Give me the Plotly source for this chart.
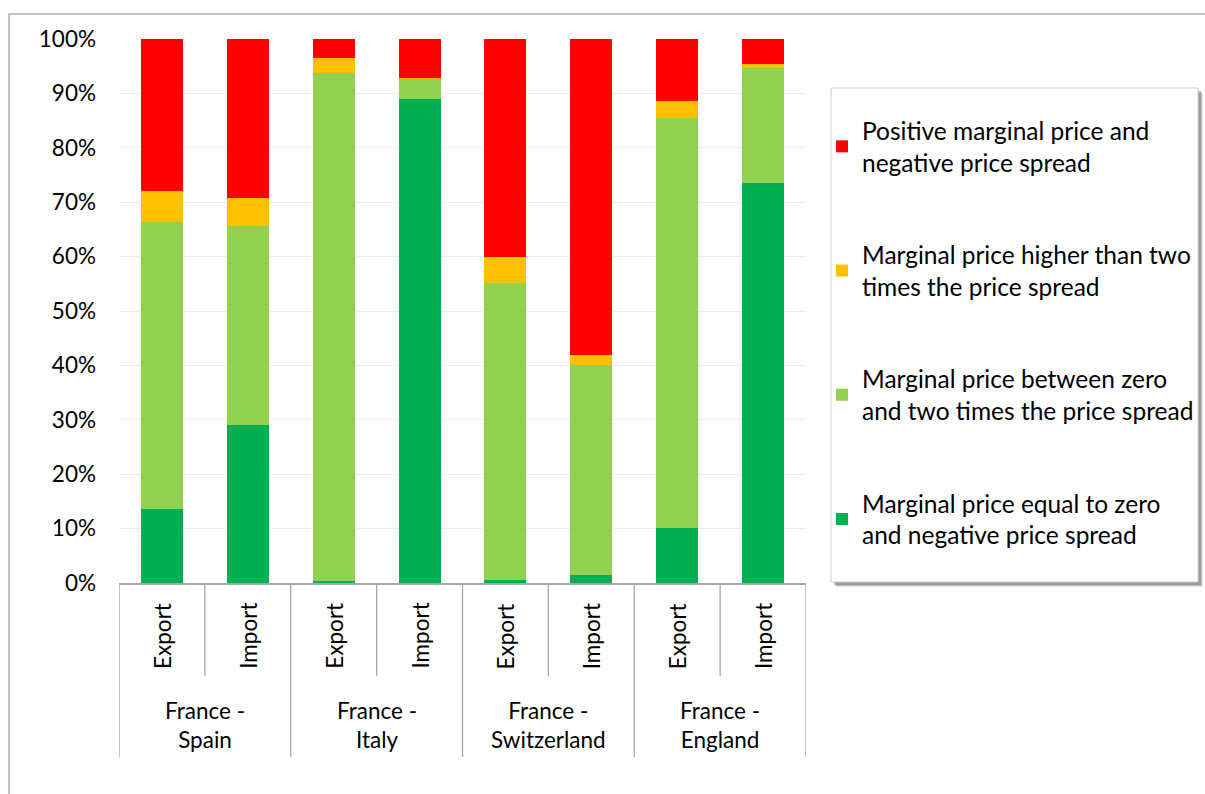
import plotly.graph_objects as go

# ---- data ----
groups = ["France -<br>Spain", "France -<br>Italy", "France -<br>Switzerland", "France -<br>England"]
flows = ["Export", "Import"]
zero_neg = [13.6, 29.0, 0.3, 89.0, 0.6, 1.4, 10.2, 73.6]
between = [52.7, 36.7, 93.5, 3.7, 54.5, 38.7, 75.2, 21.0]
higher = [5.7, 5.1, 2.7, 0.2, 4.8, 1.8, 3.2, 0.8]
positive = [28.0, 29.2, 3.5, 7.1, 40.1, 58.1, 11.4, 4.6]
series_names = [
    "Marginal price equal to zero<br>and negative price spread",
    "Marginal price between zero<br>and two times the price spread",
    "Marginal price higher than two<br>times the price spread",
    "Positive marginal price and<br>negative price spread",
]
series_values = [zero_neg, between, higher, positive]
series_colors = ["#00B050", "#92D050", "#FFC000", "#FF0000"]
y_ticks = [0, 10, 20, 30, 40, 50, 60, 70, 80, 90, 100]

# ---- layout geometry (pixels) ----
W, H = 1205, 794
PL, PR, PT, PB = 119, 806, 39, 583
FONT = "Lato, 'Open Sans', sans-serif"
AX_FS = 22.5
LEG_FS = 24.5

def px_x(x):
    return (x - PL) / (PR - PL)

def px_y(y):
    return (PB - y) / (PB - PT)

n = len(groups) * len(flows)
xs = list(range(n))

fig = go.Figure()
for k, (name, vals, col) in enumerate(zip(series_names, series_values, series_colors)):
    fig.add_trace(go.Bar(
        x=xs, y=vals, name=name, marker=dict(color=col, line=dict(width=0)),
        legendgroup=name, legendrank=len(series_names) - k,
    ))

shapes = []
annotations = []
axis_col = "#A6A6A6"
# category dividers
for i in range(n + 1):
    is_group = (i % len(flows) == 0)
    y_end = 757 if is_group else 676
    shapes.append(dict(type="line", xref="x", yref="paper", x0=i - 0.5, x1=i - 0.5,
                       y0=0, y1=px_y(y_end), line=dict(color=axis_col, width=1.3)))
# sub labels
for i in range(n):
    annotations.append(dict(xref="x", yref="paper", x=i, y=px_y(636), text=flows[i % len(flows)],
                            textangle=-90, showarrow=False,
                            font=dict(size=AX_FS, color="black", family=FONT),
                            xanchor="center", yanchor="middle"))
for g, gl in enumerate(groups):
    cx = g * len(flows) + (len(flows) - 1) / 2
    annotations.append(dict(xref="x", yref="paper", x=cx, y=px_y(725), text=gl,
                            showarrow=False, font=dict(size=AX_FS, color="black", family=FONT),
                            xanchor="center", yanchor="middle"))

# chart area border (top + left)
shapes.append(dict(type="rect", xref="paper", yref="paper", x0=px_x(9), x1=px_x(1300),
                   y0=px_y(900), y1=px_y(14), line=dict(color="#B0B0B0", width=1.5), layer="below"))
# legend box with shadow
for off, alpha in [(5, 0.10), (4, 0.15), (3, 0.20)]:
    shapes.append(dict(type="rect", xref="paper", yref="paper", x0=px_x(831 + off), x1=px_x(1198 + off),
                       y0=px_y(582 + off), y1=px_y(88 + off), line=dict(width=0),
                       fillcolor=f"rgba(0,0,0,{alpha})", layer="above"))
shapes.append(dict(type="rect", xref="paper", yref="paper", x0=px_x(831), x1=px_x(1198),
                   y0=px_y(582), y1=px_y(88), line=dict(color="#D0D0D0", width=1),
                   fillcolor="white", layer="above"))

fig.update_layout(
    width=W, height=H,
    margin=dict(l=PL, r=W - PR, t=PT, b=H - PB, autoexpand=False),
    paper_bgcolor="white", plot_bgcolor="white",
    barmode="stack", bargap=0.51,
    font=dict(family=FONT, size=AX_FS, color="black"),
    xaxis=dict(range=[-0.5, n - 0.5], showticklabels=False, showgrid=False, zeroline=False,
               showline=True, linecolor=axis_col, linewidth=1.5, ticks=""),
    yaxis=dict(range=[0, 100], tickvals=y_ticks, ticktext=[f"{v}%" for v in y_ticks],
               showgrid=True, gridcolor="#EBEBEB", gridwidth=1, zeroline=False, showline=False,
               ticks="", ticklabelstandoff=22,
               tickfont=dict(size=AX_FS, color="black", family=FONT)),
    legend=dict(x=px_x(822), y=px_y(108), xanchor="left", yanchor="top",
                bgcolor="rgba(0,0,0,0)", borderwidth=0, traceorder="grouped",
                tracegroupgap=57.5, font=dict(size=LEG_FS, color="black", family=FONT)),
    shapes=shapes, annotations=annotations,
    showlegend=True,
)

fig.write_html("out.html", config={"displayModeBar": False},
               post_script="document.body.style.margin='0';document.body.style.overflow='hidden';")
